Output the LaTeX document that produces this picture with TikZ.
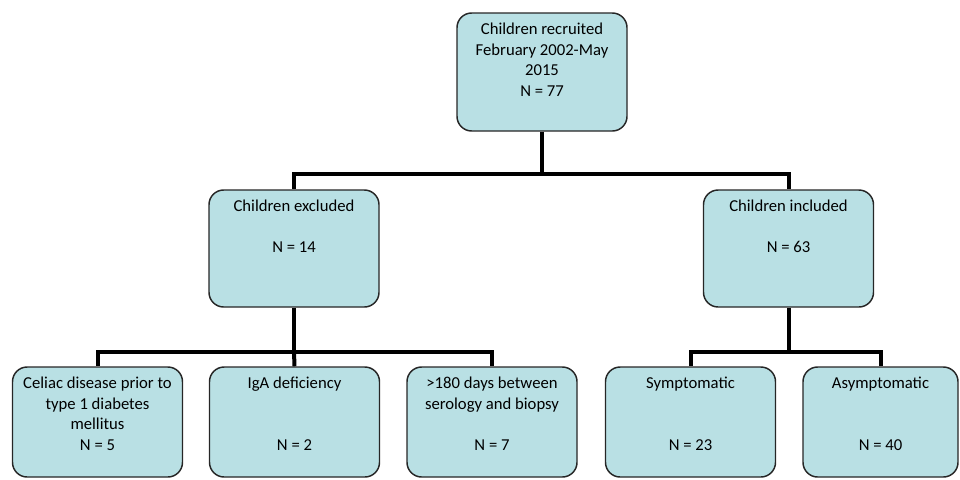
\documentclass[tikz,border=0pt]{standalone}
\usepackage{fontspec}
\setmainfont{Carlito}
\usetikzlibrary{positioning}
\definecolor{boxblue}{RGB}{185,224,228}
\tikzset{
  box/.style={draw=black!85, line width=1.1pt, fill=boxblue, rounded corners=11pt,
              minimum width=127.5pt, inner sep=0pt},
  txt/.style={align=center, inner sep=0pt, font=\fontsize{12.5}{15.3}\selectfont},
  conn/.style={line width=3pt}
}

\begin{document}
\begin{tikzpicture}[x=0.75pt,y=-0.75pt]
        \useasboundingbox (0,0) rectangle (960,479);
        % boxes
        \node[box, minimum height=88.5pt] (top) at (542,72) {};
        \node[box, minimum height=87.75pt] (excl) at (294,248.5) {};
        \node[box, minimum height=87.75pt] (incl) at (788.5,248.5) {};
        \node[box, minimum height=82.5pt] (celiac) at (97.5,422) {};
        \node[box, minimum height=82.5pt] (iga) at (294.5,422) {};
        \node[box, minimum height=82.5pt] (days) at (492,422) {};
        \node[box, minimum height=82.5pt] (sympt) at (690.5,422) {};
        \node[box, minimum height=82.5pt, minimum width=116.25pt] (asympt) at (880.5,422) {};
        % texts
        \node[txt, below=6pt of top.north] (toptxt) {\strut Children recruited\\February 2002-May\\2015\\N = 77};
        \node[txt, below=6pt of excl.north] (excltxt) {\strut Children excluded\\\mbox{}\\N = 14};
        \node[txt, below=6pt of incl.north] (incltxt) {\strut Children included\\\mbox{}\\N = 63};
        \node[txt, below=6pt of celiac.north] (celiactxt) {\strut Celiac disease prior to\\type 1 diabetes\\mellitus\\N = 5};
        \node[txt, below=6pt of iga.north] (igatxt) {\strut IgA deficiency\\\mbox{}\\\mbox{}\\N = 2};
        \node[txt, below=6pt of days.north] (daystxt) {\strut >180 days between\\serology and biopsy\\\mbox{}\\N = 7};
        \node[txt, below=6pt of sympt.north] (sympttxt) {\strut Symptomatic\\\mbox{}\\\mbox{}\\N = 23};
        \node[txt, below=6pt of asympt.north] (asympttxt) {\strut Asymptomatic\\\mbox{}\\\mbox{}\\N = 40};
        % connectors
        \coordinate (split1) at (542,174);
        \coordinate (split2) at (294,352);
        \coordinate (split3) at (788.5,352);
        \draw[conn] (top.south) -- (split1);
        \draw[conn] (split1) -| (excl.north);
        \draw[conn] (split1) -| (incl.north);
        \draw[conn] (excl.south) -- (split2);
        \draw[conn] (split2) -| (celiac.north);
        \draw[conn] (split2) -- (iga.north);
        \draw[conn] (split2) -| (days.north);
        \draw[conn] (incl.south) -- (split3);
        \draw[conn] (split3) -| (sympt.north);
        \draw[conn] (split3) -| (asympt.north);
    \end{tikzpicture}
\end{document}
